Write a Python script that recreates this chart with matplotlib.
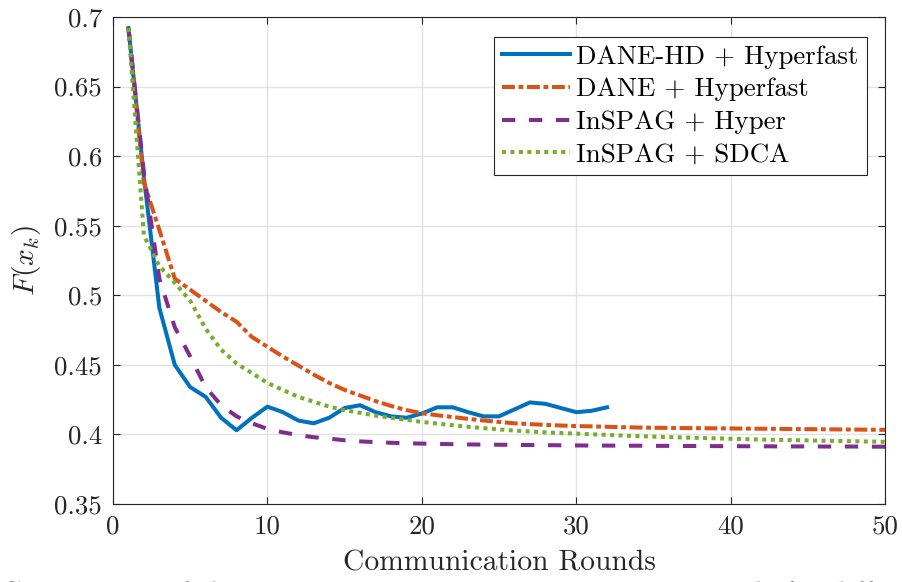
import matplotlib
matplotlib.use("Agg")
import matplotlib.pyplot as plt

# Paleta padrao do MATLAB
COLOR_HD = "#0072BD"
COLOR_DANE = "#D95319"
COLOR_HYPER = "#7E2F8E"
COLOR_SDCA = "#77AC30"
COLOR_AXIS = "#262626"
COLOR_GRID = "#e2e2e2"

plt.rcParams["font.family"] = ["cmr10", "DejaVu Serif"]
plt.rcParams["mathtext.fontset"] = "cm"
plt.rcParams["axes.formatter.use_mathtext"] = True

# Dados
rounds_hd = list(range(1, 33))
f_dane_hd = [0.692, 0.585, 0.491, 0.450, 0.434, 0.427, 0.412, 0.403, 0.412, 0.420,
             0.416, 0.410, 0.408, 0.412, 0.419, 0.421, 0.416, 0.413, 0.412, 0.415,
             0.4195, 0.4195, 0.416, 0.413, 0.413, 0.418, 0.423, 0.422, 0.419, 0.416,
             0.417, 0.4195]

rounds = list(range(1, 51))
f_dane = [0.692, 0.581, 0.547, 0.512, 0.504, 0.496, 0.488, 0.481, 0.470, 0.463,
          0.456, 0.4495, 0.443, 0.437, 0.432, 0.428, 0.424, 0.4205, 0.4175, 0.4152,
          0.4138, 0.4125, 0.4112, 0.410, 0.409, 0.408, 0.4074, 0.4069, 0.4064, 0.406,
          0.4058, 0.4055, 0.4052, 0.405, 0.4048, 0.4047, 0.4046, 0.4045, 0.4044, 0.4043,
          0.4042, 0.4041, 0.4040, 0.4039, 0.4038, 0.4037, 0.4036, 0.4035, 0.4034, 0.4033]
f_inspag_hyper = [0.692, 0.588, 0.512, 0.477, 0.456, 0.434, 0.421, 0.413, 0.408, 0.404,
                  0.4015, 0.3995, 0.398, 0.397, 0.3958, 0.395, 0.3945, 0.394, 0.3937, 0.3934,
                  0.3932, 0.3930, 0.3928, 0.3927, 0.3926, 0.3925, 0.3924, 0.3923, 0.3922, 0.3921,
                  0.3920, 0.3920, 0.3919, 0.3919, 0.3918, 0.3918, 0.3917, 0.3917, 0.3916, 0.3916,
                  0.3915, 0.3915, 0.3914, 0.3914, 0.3914, 0.3913, 0.3913, 0.3913, 0.3912, 0.3912]
f_inspag_sdca = [0.692, 0.543, 0.521, 0.509, 0.496, 0.476, 0.461, 0.451, 0.444, 0.437,
                 0.432, 0.427, 0.4235, 0.420, 0.4175, 0.4155, 0.4135, 0.412, 0.4105, 0.409,
                 0.4078, 0.4066, 0.4055, 0.4045, 0.4036, 0.4028, 0.4021, 0.4015, 0.401, 0.4006,
                 0.4001, 0.3997, 0.3992, 0.3988, 0.3984, 0.3981, 0.3978, 0.3975, 0.3972, 0.3969,
                 0.3966, 0.3963, 0.3961, 0.3959, 0.3957, 0.3955, 0.3953, 0.3951, 0.3949, 0.3947]

x_ticks = [0, 10, 20, 30, 40, 50]
y_ticks = [0.35, 0.4, 0.45, 0.5, 0.55, 0.6, 0.65, 0.7]
y_tick_labels = ["0.35", "0.4", "0.45", "0.5", "0.55", "0.6", "0.65", "0.7"]

fig = plt.figure(figsize=(9.02, 5.82), dpi=100)
ax = fig.add_axes([0.1253, 0.134, 0.8559, 0.8368])

LW = 2.9
ax.plot(rounds_hd, f_dane_hd, color=COLOR_HD, linewidth=LW, label="DANE-HD + Hyperfast")
ax.plot(rounds, f_dane, color=COLOR_DANE, linewidth=LW, linestyle=(0, (3.2, 0.9, 1.2, 0.9)),
        label="DANE + Hyperfast")
ax.plot(rounds, f_inspag_hyper, color=COLOR_HYPER, linewidth=LW, linestyle=(0, (3.3, 3.4)),
        label="InSPAG + Hyper")
ax.plot(rounds, f_inspag_sdca, color=COLOR_SDCA, linewidth=LW, linestyle=(0, (1.0, 1.1)),
        label="InSPAG + SDCA")

ax.set_xlim(0, 50)
ax.set_ylim(0.35, 0.7)
ax.set_xticks(x_ticks)
ax.set_xticklabels([str(t) for t in x_ticks])
ax.set_yticks(y_ticks)
ax.set_yticklabels(y_tick_labels)

ax.tick_params(direction="in", length=5, width=0.8, color=COLOR_AXIS, labelsize=19.4,
               top=True, right=True, labelcolor=COLOR_AXIS)
ax.tick_params(axis="x", pad=8)
ax.tick_params(axis="y", pad=8)
for spine in ax.spines.values():
    spine.set_color(COLOR_AXIS)
    spine.set_linewidth(0.8)

ax.grid(True, color=COLOR_GRID, linewidth=1.0)
ax.set_axisbelow(True)

ax.set_xlabel("Communication Rounds", fontsize=21.3, color=COLOR_AXIS, labelpad=8)
ax.set_ylabel(r"$F(x_k)$", fontsize=21.3, color=COLOR_AXIS, labelpad=8)

leg = ax.legend(loc="upper right", bbox_to_anchor=(0.9763, 0.9595), borderaxespad=0,
                fontsize=19.4, handlelength=2.5, handletextpad=0.25, labelspacing=0.33,
                borderpad=0.3, fancybox=False, framealpha=1)
leg.get_frame().set_edgecolor(COLOR_AXIS)
leg.get_frame().set_linewidth(0.8)

# legenda da figura cortada na borda inferior (como no original)
fig.text(0.0, -0.034, "Comparison of the convergence over communication rounds for different methods",
         fontsize=21.3, color="#111111", ha="left", va="baseline")

fig.savefig("out.png", dpi=100)
